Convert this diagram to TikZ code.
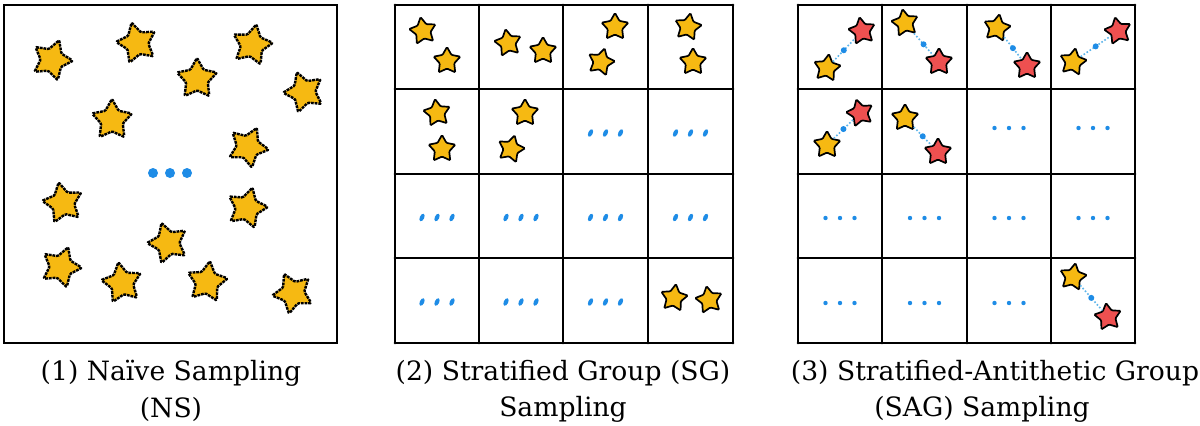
\documentclass[tikz,border=0pt]{standalone}
\usepackage{fontspec}
\setmainfont{DejaVu Serif}
\usetikzlibrary{shapes.geometric}
\definecolor{stary}{HTML}{F6B912}
\definecolor{starr}{HTML}{EE5050}
\definecolor{dotb}{HTML}{1E8CE6}
\definecolor{linkb}{HTML}{5DB5EA}
\tikzset{
  bigstar/.style={star, star points=5, star point ratio=1.85, minimum size=21pt,
    inner sep=0pt, fill=stary, draw=black, line width=1.2pt,
    dash pattern=on 1.4pt off 0.45pt, rounded corners=0.6pt},
  smallstar/.style={star, star points=5, star point ratio=1.85, minimum size=14pt,
    inner sep=0pt, draw=black, line width=0.85pt, rounded corners=0.5pt},
  gridline/.style={line width=1.4pt, black, line cap=round},
  link/.style={linkb, line width=0.8pt, densely dotted},
  middot/.style={circle, fill=dotb, inner sep=0pt, minimum size=3pt},
  caption/.style={font=\fontsize{13.3}{16}\selectfont, inner sep=0pt, anchor=center},
}
\newcommand\bst[4]{\node[bigstar, rotate=#4] (#1) at (#2,#3) {};}
\newcommand\yst[4]{\node[smallstar, fill=stary, rotate=#4] (#1) at (#2,#3) {};}
\newcommand\rst[4]{\node[smallstar, fill=starr, rotate=#4] (#1) at (#2,#3) {};}
\newcommand\apair[3]{\draw[link] (#1) -- node[middot] (#3) {} (#2);}
\begin{document}
\begin{tikzpicture}[x=0.5pt, y=-0.5pt]
\useasboundingbox (0,0) rectangle (1200,425);
\fill[white] (0,0) rectangle (1200,425);

% ---------- Panel 1 ----------
\draw[gridline] (4,5) rectangle (337,343);
\bst{a1}{52}{60}{-20}
\bst{a2}{137}{43}{15}
\bst{a3}{252}{45}{-12}
\bst{a4}{197}{79}{0}
\bst{a5}{304}{92}{20}
\bst{a6}{112}{120}{0}
\bst{a7}{248}{147}{-25}
\bst{a9}{63}{203}{12}
\bst{a10}{247}{208}{-15}
\bst{a11}{168}{243}{18}
\bst{a12}{61}{267}{-20}
\bst{a13}{122}{283}{10}
\bst{a14}{207}{282}{-8}
\bst{a15}{293}{293}{25}
\foreach \x in {153,170,187} \fill[dotb] (\x,173) circle (2.5pt);

% ---------- Panel 2 ----------
\foreach \x in {395,479,563,648,733} \draw[gridline] (\x,5) -- (\x,343);
\foreach \y in {5,89,174,258,343} \draw[gridline] (395,\y) -- (733,\y);
\yst{b1}{423}{31}{10}
\yst{b2}{447}{61}{0}
\yst{b3}{508}{43}{10}
\yst{b4}{543}{51}{0}
\yst{b5}{615}{27}{0}
\yst{b6}{601}{62}{-15}
\yst{b7}{688}{27}{-10}
\yst{b8}{693}{62}{0}
\yst{b9}{437}{113}{8}
\yst{b10}{442}{149}{0}
\yst{b11}{525}{113}{0}
\yst{b12}{511}{149}{-15}
\yst{b13}{674}{298}{-8}
\yst{b14}{709}{300}{10}
\foreach \cx/\cy in {605.5/133, 690.5/133,
    437/217.5, 521/217.5, 605.5/217.5, 690.5/217.5,
    437/302, 521/302, 605.5/302}
  \foreach \d in {-15,0,15}
    \fill[dotb, rotate around={-25:(\cx+\d,\cy)}] (\cx+\d,\cy) ellipse (1.1pt and 2pt);

% ---------- Panel 3 ----------
\foreach \x in {798,882,967,1051,1135} \draw[gridline] (\x,5) -- (\x,343);
\foreach \y in {5,89,174,258,343} \draw[gridline] (798,\y) -- (1135,\y);
\rst{c1r}{862}{31}{10}
\yst{c1y}{827}{68}{-8}
\yst{c2y}{905}{23}{10}
\rst{c2r}{939}{62}{0}
\yst{c3y}{997}{28}{-10}
\rst{c3r}{1027}{66}{0}
\rst{c4r}{1118}{31}{12}
\yst{c4y}{1073}{62}{-10}
\rst{c5r}{860}{113}{15}
\yst{c5y}{827}{145}{0}
\yst{c6y}{905}{118}{0}
\rst{c6r}{938}{152}{0}
\yst{c7y}{1073}{277}{-10}
\rst{c7r}{1108}{317}{8}
\apair{c1y}{c1r}{c1m}
\apair{c2y}{c2r}{c2m}
\apair{c3y}{c3r}{c3m}
\apair{c4y}{c4r}{c4m}
\apair{c5y}{c5r}{c5m}
\apair{c6y}{c6r}{c6m}
\apair{c7y}{c7r}{c7m}
\foreach \cx/\cy in {1009/128, 1093/128,
    840/218, 924.5/218, 1009/218, 1093/218,
    840/303, 924.5/303, 1009/303}
  \foreach \d in {-14.5,0,14.5}
    \fill[dotb] (\cx+\d,\cy) circle (1.1pt);

% ---------- Captions ----------
\node[caption] (t1a) at (171,373) {(1) Naïve Sampling};
\node[caption] (t1b) at (171,409) {(NS)};
\node[caption] (t2a) at (563,373) {(2) Stratified Group (SG)};
\node[caption] (t2b) at (563,409) {Sampling};
\node[caption] (t3a) at (995,373) {(3) Stratified-Antithetic Group};
\node[caption] (t3b) at (982,409) {(SAG) Sampling};
\end{tikzpicture}
\end{document}
